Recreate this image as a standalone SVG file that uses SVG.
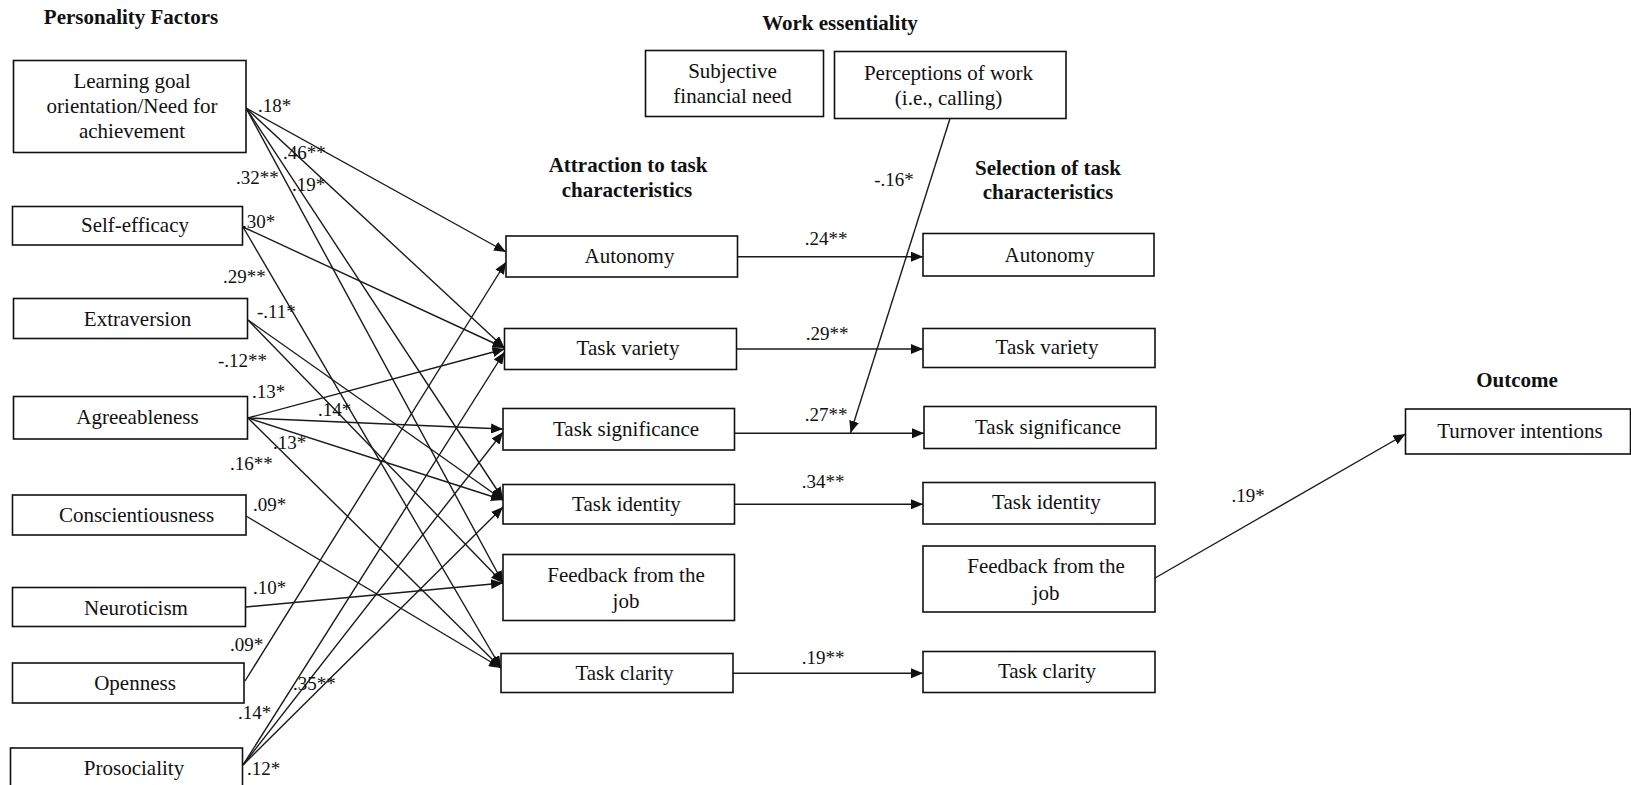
<svg xmlns="http://www.w3.org/2000/svg" width="1631" height="785" viewBox="0 0 1631 785" font-family="'Liberation Serif', 'DejaVu Serif', serif">
<defs>
<style>
.box{fill:#fff;stroke:#111;stroke-width:1.6}
.t{font-size:21px;fill:#111;text-anchor:middle}
.h{font-size:21px;font-weight:bold;fill:#111;text-anchor:middle}
.c{font-size:19px;fill:#111}
.cm{text-anchor:middle}
.ln{stroke:#1a1a1a;stroke-width:1.4;fill:none;marker-end:url(#ah)}
</style>
<marker id="ah" markerUnits="userSpaceOnUse" markerWidth="12" markerHeight="10" viewBox="0 0 12 10" refX="12" refY="5" orient="auto">
<path d="M0,0 L12,5 L0,10 Z" fill="#111"/>
</marker>
</defs>
<rect width="1631" height="785" fill="#fff"/>

<g id="titles" font-family="Liberation Serif, serif">
<text class="h" x="131" y="24">Personality Factors</text>
<text class="h" x="840" y="30">Work essentiality</text>
<text class="h" x="628" y="172">Attraction to task</text>
<text class="h" x="627" y="197">characteristics</text>
<text class="h" x="1048" y="175">Selection of task</text>
<text class="h" x="1048" y="199">characteristics</text>
<text class="h" x="1517" y="387">Outcome</text>
</g>

<g id="connectors">
<line class="ln" x1="246" y1="108" x2="506" y2="252"/>
<line class="ln" x1="246" y1="108" x2="504.5" y2="348"/>
<line class="ln" x1="246" y1="108" x2="503" y2="499"/>
<line class="ln" x1="246" y1="108" x2="503" y2="583"/>
<line class="ln" x1="243" y1="227" x2="504.5" y2="348"/>
<line class="ln" x1="243" y1="227" x2="501" y2="668"/>
<line class="ln" x1="248" y1="320" x2="503" y2="500"/>
<line class="ln" x1="248" y1="320" x2="503" y2="583"/>
<line class="ln" x1="248" y1="418" x2="504.5" y2="349"/>
<line class="ln" x1="248" y1="418" x2="503" y2="429"/>
<line class="ln" x1="248" y1="418" x2="503" y2="500"/>
<line class="ln" x1="248" y1="418" x2="501" y2="668"/>
<line class="ln" x1="246" y1="516" x2="501" y2="668"/>
<line class="ln" x1="246" y1="607" x2="503" y2="583"/>
<line class="ln" x1="245" y1="681" x2="506" y2="262"/>
<line class="ln" x1="243" y1="765" x2="504.5" y2="352"/>
<line class="ln" x1="243" y1="765" x2="503" y2="432"/>
<line class="ln" x1="243" y1="765" x2="503" y2="507"/>
<line class="ln" x1="737.5" y1="256.7" x2="923" y2="256.7"/>
<line class="ln" x1="736.5" y1="349" x2="923" y2="349"/>
<line class="ln" x1="732" y1="433.3" x2="924" y2="433.3"/>
<line class="ln" x1="734.5" y1="504.3" x2="923" y2="504.3"/>
<line class="ln" x1="733" y1="673.3" x2="923" y2="673.3"/>
<line class="ln" x1="1155" y1="578" x2="1405.5" y2="434"/>
<line class="ln" x1="950" y1="118.5" x2="850.5" y2="433"/>
</g>

<g id="coefficients" font-family="Liberation Serif, serif">
<text class="c" x="258" y="112">.18*</text>
<text class="c" x="283" y="159">.46**</text>
<text class="c" x="236" y="184">.32**</text>
<text class="c" x="292" y="191">.19*</text>
<text class="c" x="242" y="228">.30*</text>
<text class="c" x="223" y="283">.29**</text>
<text class="c" x="257" y="318">-.11*</text>
<text class="c" x="218" y="367">-.12**</text>
<text class="c" x="252" y="398">.13*</text>
<text class="c" x="318" y="416">.14*</text>
<text class="c" x="273" y="449">.13*</text>
<text class="c" x="230" y="470">.16**</text>
<text class="c" x="253" y="511">.09*</text>
<text class="c" x="253" y="594">.10*</text>
<text class="c" x="230" y="651">.09*</text>
<text class="c" x="293" y="690">.35**</text>
<text class="c" x="238" y="719">.14*</text>
<text class="c" x="247" y="775">.12*</text>
<text class="c cm" x="826" y="245">.24**</text>
<text class="c cm" x="827" y="340">.29**</text>
<text class="c cm" x="826" y="421">.27**</text>
<text class="c cm" x="823" y="488">.34**</text>
<text class="c cm" x="823" y="664">.19**</text>
<text class="c cm" x="894" y="186">-.16*</text>
<text class="c cm" x="1248" y="502">.19*</text>
</g>

<g id="n-learning" font-family="Liberation Serif, serif">
<rect class="box" x="13.5" y="60.5" width="232.5" height="92"/>
<text class="t" x="132" y="88">Learning goal</text>
<text class="t" x="132" y="113">orientation/Need for</text>
<text class="t" x="132" y="138">achievement</text>
</g>
<g id="n-selfeff" font-family="Liberation Serif, serif"><rect class="box" x="12.5" y="206.5" width="230" height="38.5"/><text class="t" x="135" y="232">Self-efficacy</text></g>
<g id="n-extra" font-family="Liberation Serif, serif"><rect class="box" x="13.5" y="298.5" width="234" height="40"/><text class="t" x="137.5" y="326">Extraversion</text></g>
<g id="n-agree" font-family="Liberation Serif, serif"><rect class="box" x="13.5" y="396.5" width="234" height="42.5"/><text class="t" x="137.5" y="423.5">Agreeableness</text></g>
<g id="n-consc" font-family="Liberation Serif, serif"><rect class="box" x="12.5" y="495" width="233.5" height="40"/><text class="t" x="136.5" y="522">Conscientiousness</text></g>
<g id="n-neuro" font-family="Liberation Serif, serif"><rect class="box" x="12.5" y="587.5" width="233" height="39"/><text class="t" x="136" y="615">Neuroticism</text></g>
<g id="n-open" font-family="Liberation Serif, serif"><rect class="box" x="12.5" y="663" width="231.5" height="40"/><text class="t" x="135" y="690">Openness</text></g>
<g id="n-prosoc" font-family="Liberation Serif, serif"><rect class="box" x="10.5" y="748" width="232" height="50"/><text class="t" x="134" y="775">Prosociality</text></g>

<g id="n-a-aut" font-family="Liberation Serif, serif"><rect class="box" x="506" y="236" width="231.5" height="41"/><text class="t" x="629.5" y="263">Autonomy</text></g>
<g id="n-a-var" font-family="Liberation Serif, serif"><rect class="box" x="504.5" y="328.5" width="232" height="41"/><text class="t" x="628" y="355">Task variety</text></g>
<g id="n-a-sig" font-family="Liberation Serif, serif"><rect class="box" x="503" y="408.5" width="231.5" height="41.5"/><text class="t" x="626" y="435.5">Task significance</text></g>
<g id="n-a-id" font-family="Liberation Serif, serif"><rect class="box" x="503" y="484.5" width="231.5" height="39.5"/><text class="t" x="626.5" y="510.5">Task identity</text></g>
<g id="n-a-fb" font-family="Liberation Serif, serif"><rect class="box" x="503" y="554.5" width="231.5" height="66"/><text class="t" x="626" y="581.5">Feedback from the</text><text class="t" x="626" y="608">job</text></g>
<g id="n-a-cl" font-family="Liberation Serif, serif"><rect class="box" x="501" y="653.5" width="232" height="39"/><text class="t" x="624.5" y="680">Task clarity</text></g>

<g id="n-s-aut" font-family="Liberation Serif, serif"><rect class="box" x="923" y="233.5" width="231" height="42.5"/><text class="t" x="1049.5" y="262">Autonomy</text></g>
<g id="n-s-var" font-family="Liberation Serif, serif"><rect class="box" x="923" y="328.5" width="232" height="39"/><text class="t" x="1047" y="354">Task variety</text></g>
<g id="n-s-sig" font-family="Liberation Serif, serif"><rect class="box" x="924" y="406.5" width="232" height="42"/><text class="t" x="1048" y="434">Task significance</text></g>
<g id="n-s-id" font-family="Liberation Serif, serif"><rect class="box" x="923" y="482.5" width="232" height="41.5"/><text class="t" x="1046.5" y="509">Task identity</text></g>
<g id="n-s-fb" font-family="Liberation Serif, serif"><rect class="box" x="923" y="546" width="232" height="66"/><text class="t" x="1046" y="573">Feedback from the</text><text class="t" x="1046" y="600">job</text></g>
<g id="n-s-cl" font-family="Liberation Serif, serif"><rect class="box" x="923" y="651.5" width="232" height="41"/><text class="t" x="1047" y="678">Task clarity</text></g>

<g id="n-finance" font-family="Liberation Serif, serif"><rect class="box" x="645.5" y="50.5" width="178" height="66"/><text class="t" x="732.5" y="78">Subjective</text><text class="t" x="732.5" y="103">financial need</text></g>
<g id="n-calling" font-family="Liberation Serif, serif"><rect class="box" x="834.5" y="51.5" width="231.5" height="67"/><text class="t" x="948.5" y="80">Perceptions of work</text><text class="t" x="948.5" y="105">(i.e., calling)</text></g>

<g id="n-turnover" font-family="Liberation Serif, serif"><rect class="box" x="1405.5" y="409" width="225" height="45"/><text class="t" x="1520" y="438">Turnover intentions</text></g>
</svg>
